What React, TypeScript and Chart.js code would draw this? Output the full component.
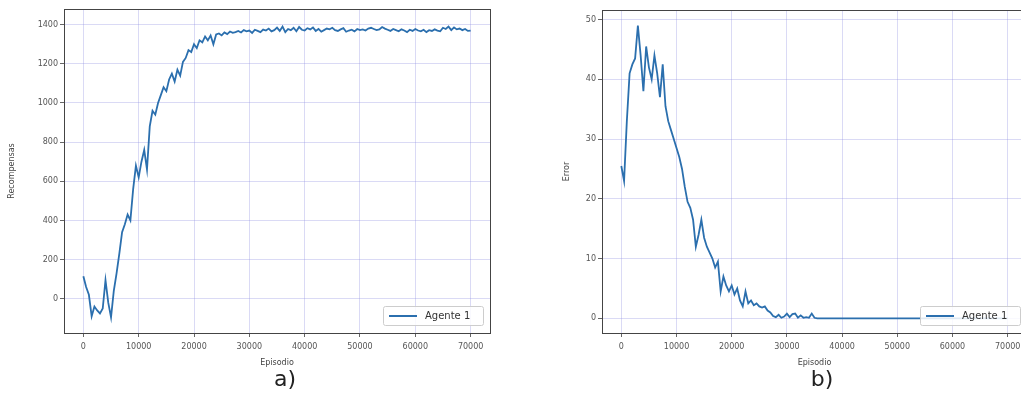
import React, { useEffect, useRef } from "react";
import { Chart, registerables } from "chart.js";

Chart.register(...registerables);

const episodes = [
  0, 500, 1000, 1500, 2000, 2500, 3000, 3500, 4000, 4500,
  5000, 5500, 6000, 6500, 7000, 7500, 8000, 8500, 9000, 9500,
  10000, 10500, 11000, 11500, 12000, 12500, 13000, 13500, 14000, 14500,
  15000, 15500, 16000, 16500, 17000, 17500, 18000, 18500, 19000, 19500,
  20000, 20500, 21000, 21500, 22000, 22500, 23000, 23500, 24000, 24500,
  25000, 25500, 26000, 26500, 27000, 27500, 28000, 28500, 29000, 29500,
  30000, 30500, 31000, 31500, 32000, 32500, 33000, 33500, 34000, 34500,
  35000, 35500, 36000, 36500, 37000, 37500, 38000, 38500, 39000, 39500,
  40000, 40500, 41000, 41500, 42000, 42500, 43000, 43500, 44000, 44500,
  45000, 45500, 46000, 46500, 47000, 47500, 48000, 48500, 49000, 49500,
  50000, 50500, 51000, 51500, 52000, 52500, 53000, 53500, 54000, 54500,
  55000, 55500, 56000, 56500, 57000, 57500, 58000, 58500, 59000, 59500,
  60000, 60500, 61000, 61500, 62000, 62500, 63000, 63500, 64000, 64500,
  65000, 65500, 66000, 66500, 67000, 67500, 68000, 68500, 69000, 69500,
  70000,
];

const rewards = [
  115, 60, 20, -90, -40, -60, -75, -50, 95, -20,
  -95, 40, 130, 230, 340, 380, 430, 400, 560, 680,
  620, 700, 760, 660, 880, 960, 940, 1000, 1040, 1080,
  1060, 1120, 1150, 1110, 1170, 1140, 1210, 1230, 1270, 1260,
  1300, 1280, 1320, 1310, 1340, 1320, 1345, 1300, 1350, 1355,
  1345, 1360, 1352, 1365, 1358, 1362, 1368, 1360, 1372, 1366,
  1370, 1358, 1374, 1368, 1362, 1375, 1370, 1380, 1366, 1372,
  1385, 1368, 1390, 1362, 1378, 1372, 1384, 1366, 1388, 1374,
  1370, 1382, 1376, 1386, 1368, 1378, 1364, 1372, 1380, 1376,
  1384, 1372, 1368, 1376, 1382, 1364, 1370, 1374, 1366, 1378,
  1372, 1376, 1370, 1380, 1384, 1378, 1372, 1376, 1388, 1380,
  1374, 1368, 1378, 1372, 1366, 1376, 1370, 1362, 1374, 1368,
  1378, 1370, 1366, 1374, 1362, 1372, 1368, 1376, 1370, 1366,
  1384, 1378, 1390, 1372, 1386, 1376, 1380, 1372, 1378, 1368,
  1370,
];

const errors = [
  25.5, 23, 33, 41, 42.5, 43.5, 49, 44, 38, 45.5,
  42, 40, 44, 41, 37, 42.5, 35.5, 33, 31.5, 30,
  28.5, 27, 25, 22, 19.5, 18.5, 16.5, 12, 14, 16.5,
  13.5, 12, 11, 10, 8.5, 9.5, 4.5, 7, 5.5, 4.5,
  5.5, 4, 5, 3, 2, 4.5, 2.5, 3, 2.2, 2.5,
  2, 1.8, 2, 1.3, 1, 0.4, 0.2, 0.6, 0.1, 0.3,
  0.8, 0.2, 0.7, 0.8, 0.1, 0.5, 0.1, 0.2, 0.1, 0.8,
  0.1, 0, 0, 0, 0, 0, 0, 0, 0, 0,
  0, 0, 0, 0, 0, 0, 0, 0, 0, 0,
  0, 0, 0, 0, 0, 0, 0, 0, 0, 0,
  0, 0, 0, 0, 0, 0, 0, 0, 0, 0,
  0, 0, 0, 0, 0, 0, 0, 0, 0, 0,
  0, 0, 0, 0, 0, 0, 0, 0, 0, 0,
  0, 0, 0, 0, 0, 0, 0, 0, 0, 0,
  0,
];

const xTickValues = [0, 10000, 20000, 30000, 40000, 50000, 60000, 70000];
const rewardTickValues = [0, 200, 400, 600, 800, 1000, 1200, 1400];
const errorTickValues = [0, 10, 20, 30, 40, 50];

const seriesLabel = "Agente 1";
const xTitle = "Episodio";

const LINE_COLOR = "#2b6fae";
const GRID_COLOR = "rgba(150,150,225,0.35)";
const TICK_COLOR = "#555";
const FONT = "'DejaVu Sans', sans-serif";

const framePlugin = {
  id: "frame",
  afterDatasetsDraw(chart: any) {
    const { ctx, chartArea } = chart;
    ctx.save();
    ctx.strokeStyle = "#444";
    ctx.lineWidth = 1;
    ctx.strokeRect(
      Math.round(chartArea.left) + 0.5,
      Math.round(chartArea.top) + 0.5,
      Math.round(chartArea.right - chartArea.left),
      Math.round(chartArea.bottom - chartArea.top)
    );
    ctx.restore();
  },
};

const boxLegendPlugin = {
  id: "boxLegend",
  afterDraw(chart: any) {
    const { ctx, chartArea } = chart;
    const ds = chart.data.datasets[0];
    const w = 100;
    const h = 19;
    const x = chartArea.right - 7 - w;
    const y = chartArea.bottom - 8 - h;
    ctx.save();
    ctx.fillStyle = "rgba(255,255,255,0.85)";
    ctx.strokeStyle = "rgba(205,205,205,1)";
    ctx.lineWidth = 1;
    ctx.beginPath();
    ctx.roundRect(x + 0.5, y + 0.5, w, h, 2);
    ctx.fill();
    ctx.stroke();
    ctx.strokeStyle = ds.borderColor;
    ctx.lineWidth = 2;
    ctx.beginPath();
    ctx.moveTo(x + 6, y + h / 2 + 0.5);
    ctx.lineTo(x + 34, y + h / 2 + 0.5);
    ctx.stroke();
    ctx.fillStyle = "#333";
    ctx.font = `10px ${FONT}`;
    ctx.textBaseline = "middle";
    ctx.fillText(ds.label, x + 42, y + h / 2 + 1);
    ctx.restore();
  },
};

function makeConfig(
  values: number[],
  yTitle: string,
  yMin: number,
  yMax: number,
  yTicks: number[],
  yAxisWidth: number,
  yTitlePad: number,
  pad: { left: number; right: number; top: number; bottom: number }
): any {
  return {
    type: "line",
    data: {
      labels: episodes,
      datasets: [
        {
          label: seriesLabel,
          data: episodes.map((e, i) => ({ x: e, y: values[i] })),
          borderColor: LINE_COLOR,
          borderWidth: 1.8,
          pointRadius: 0,
          tension: 0,
          fill: false,
        },
      ],
    },
    options: {
      animation: false,
      responsive: false,
      events: [],
      layout: { padding: pad },
      plugins: { legend: { display: false }, tooltip: { enabled: false } },
      scales: {
        x: {
          type: "linear",
          min: -3500,
          max: 73500,
          afterBuildTicks(scale: any) {
            scale.ticks = xTickValues.map((v) => ({ value: v }));
          },
          afterFit(scale: any) {
            scale.height = 65;
          },
          ticks: {
            autoSkip: false,
            maxRotation: 0,
            padding: 5,
            color: TICK_COLOR,
            font: { family: FONT, size: 8 },
            callback: (v: any) => String(v),
          },
          grid: {
            color: GRID_COLOR,
            tickColor: "#666",
            tickLength: 4,
            lineWidth: 1,
          },
          border: { display: false },
          title: {
            display: true,
            text: xTitle,
            color: "#444",
            font: { family: FONT, size: 8 },
            padding: { top: 0, bottom: 30 },
          },
        },
        y: {
          type: "linear",
          min: yMin,
          max: yMax,
          afterBuildTicks(scale: any) {
            scale.ticks = yTicks.map((v) => ({ value: v }));
          },
          afterFit(scale: any) {
            scale.width = yAxisWidth;
          },
          ticks: {
            padding: 2,
            color: TICK_COLOR,
            font: { family: FONT, size: 8 },
            callback: (v: any) => String(v),
          },
          grid: {
            color: GRID_COLOR,
            tickColor: "#666",
            tickLength: 4,
            lineWidth: 1,
          },
          border: { display: false },
          title: {
            display: true,
            text: yTitle,
            color: "#444",
            font: { family: FONT, size: 8 },
            padding: { top: yTitlePad, bottom: 0 },
          },
        },
      },
    },
    plugins: [framePlugin, boxLegendPlugin],
  };
}

export default function App() {
  const leftRef = useRef<HTMLCanvasElement | null>(null);
  const rightRef = useRef<HTMLCanvasElement | null>(null);

  useEffect(() => {
    const charts: Chart[] = [];
    if (leftRef.current) {
      charts.push(
        new Chart(
          leftRef.current,
          makeConfig(rewards, "Recompensas", -175, 1480, rewardTickValues, 64, 7, {
            left: 0,
            right: 20,
            top: 9,
            bottom: 0,
          })
        )
      );
    }
    if (rightRef.current) {
      charts.push(
        new Chart(
          rightRef.current,
          makeConfig(errors, "Error", -2.45, 51.6, errorTickValues, 92, 52, {
            left: 0,
            right: 23,
            top: 10,
            bottom: 0,
          })
        )
      );
    }
    return () => charts.forEach((c) => c.destroy());
  }, []);

  const captionStyle: React.CSSProperties = {
    position: "absolute",
    top: 366,
    fontFamily: FONT,
    fontSize: 22,
    color: "#222",
    lineHeight: "26px",
    transform: "translateX(-50%)",
  };

  return (
    <div
      style={{
        position: "fixed",
        left: 0,
        top: 0,
        width: 1021,
        height: 398,
        overflow: "hidden",
        background: "#fff",
      }}
    >
      <canvas
        ref={leftRef}
        width={510}
        height={398}
        style={{ position: "absolute", left: 0, top: 0 }}
      />
      <canvas
        ref={rightRef}
        width={540}
        height={398}
        style={{ position: "absolute", left: 510, top: 0 }}
      />
      <div style={{ ...captionStyle, left: 285 }}>a)</div>
      <div style={{ ...captionStyle, left: 822 }}>b)</div>
    </div>
  );
}
